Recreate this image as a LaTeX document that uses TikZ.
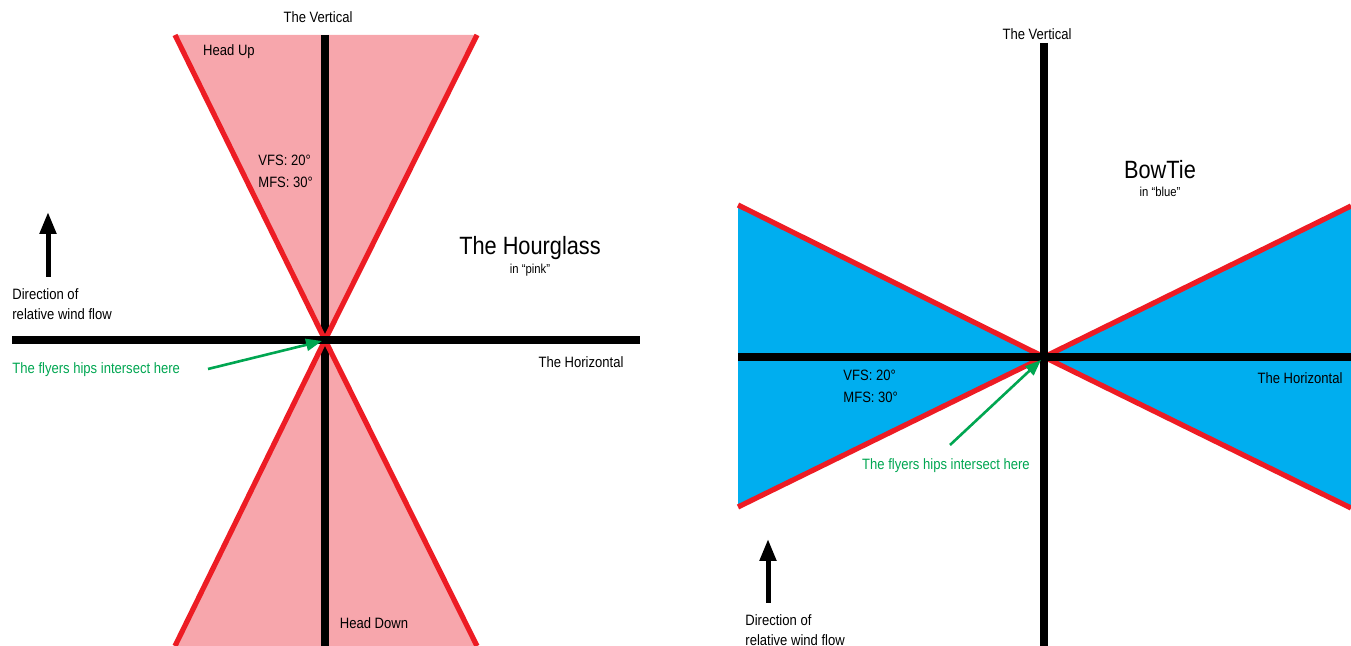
\documentclass[tikz,border=0pt]{standalone}
\usepackage{fontspec}
\setmainfont{Liberation Sans}[FakeStretch=0.87]
\usetikzlibrary{arrows.meta}
\definecolor{hgpink}{HTML}{F7A6AC}
\definecolor{hgred}{HTML}{ED1C24}
\definecolor{btblue}{HTML}{00AEEF}
\definecolor{hipgreen}{HTML}{00A651}
\begin{document}
\begin{tikzpicture}[x=0.5pt,y=-0.5pt,
  axis/.style={line width=4pt},
  redline/.style={hgred,line width=2.6pt},
  lbl/.style={inner sep=0pt,font=\fontsize{7.5}{9}\selectfont},
  title/.style={inner sep=0pt,font=\fontsize{12.5}{14}\selectfont},
  sub/.style={inner sep=0pt,font=\fontsize{6.5}{7.5}\selectfont},
  hiplbl/.style={lbl,text=hipgreen},
  wind/.style={-{Triangle[width=8pt,length=11pt]},line width=2.5pt},
  hiparrow/.style={-{Triangle[width=6pt,length=8pt]},hipgreen,line width=1.3pt}
]
\useasboundingbox (0,0) rectangle (1351,646);

% ---- The Hourglass ----
\coordinate (hgO) at (325,340);
\coordinate (hgTL) at (175,35);
\coordinate (hgTR) at (477,35);
\coordinate (hgBL) at (175,646);
\coordinate (hgBR) at (477,646);
\fill[hgpink] (hgTL) -- (hgTR) -- (hgO) -- cycle;
\fill[hgpink] (hgBL) -- (hgBR) -- (hgO) -- cycle;
\draw[axis] (325,35) -- (325,646);
\draw[redline] (hgTL) -- (hgO) -- (hgBR);
\draw[redline] (hgTR) -- (hgO) -- (hgBL);
\draw[axis] (12,340) -- (640,340);

\node[lbl] (hgvert) at (318,17) {The Vertical};
\node[lbl] (headup) at (229,52) {Head Up};
\node[lbl,anchor=west,align=left] (hgfs) at (258,171) {VFS: 20°\\[2pt]MFS: 30°};
\node[title] (hgname) at (530,248) {The Hourglass};
\node[sub] (hgsub) at (530,270) {in “pink”};
\node[lbl] (hghoriz) at (581,362) {The Horizontal};
\node[lbl] (headdown) at (374,623) {Head Down};
\node[lbl,anchor=west,align=left] (hgwind) at (12,304) {Direction of\\[1pt]relative wind flow};
\node[hiplbl,anchor=west] (hghips) at (12,370) {The flyers hips intersect here};

\coordinate (hgwindA) at (48,277);
\coordinate (hgwindB) at (48,212);
\draw[wind] (hgwindA) -- (hgwindB);
\coordinate (hghipsA) at (208,369);
\draw[hiparrow] (hghipsA) -- (322,341);

% ---- BowTie ----
\coordinate (btO) at (1044,357);
\coordinate (btTL) at (738,205);
\coordinate (btBL) at (738,507);
\coordinate (btTR) at (1351,206);
\coordinate (btBR) at (1351,508);
\fill[btblue] (btTL) -- (btBL) -- (btO) -- cycle;
\fill[btblue] (btTR) -- (btBR) -- (btO) -- cycle;
\draw[redline] (btTL) -- (btO) -- (btBR);
\draw[redline] (btBL) -- (btO) -- (btTR);
\draw[axis] (738,357) -- (1351,357);
\draw[axis] (1044,43) -- (1044,646);

\node[lbl] (btvert) at (1037,34) {The Vertical};
\node[title] (btname) at (1160,170) {BowTie};
\node[sub] (btsub) at (1160,192) {in “blue”};
\node[lbl,anchor=west,align=left] (btfs) at (843,386) {VFS: 20°\\[2pt]MFS: 30°};
\node[lbl] (bthoriz) at (1300,378) {The Horizontal};
\node[hiplbl] (bthips) at (946,466) {The flyers hips intersect here};
\node[lbl,anchor=west,align=left] (btwind) at (745,630) {Direction of\\[1pt]relative wind flow};

\coordinate (btwindA) at (768,603);
\coordinate (btwindB) at (768,539);
\draw[wind] (btwindA) -- (btwindB);
\coordinate (bthipsA) at (950,445);
\draw[hiparrow] (bthipsA) -- (1041,360);
\end{tikzpicture}
\end{document}
